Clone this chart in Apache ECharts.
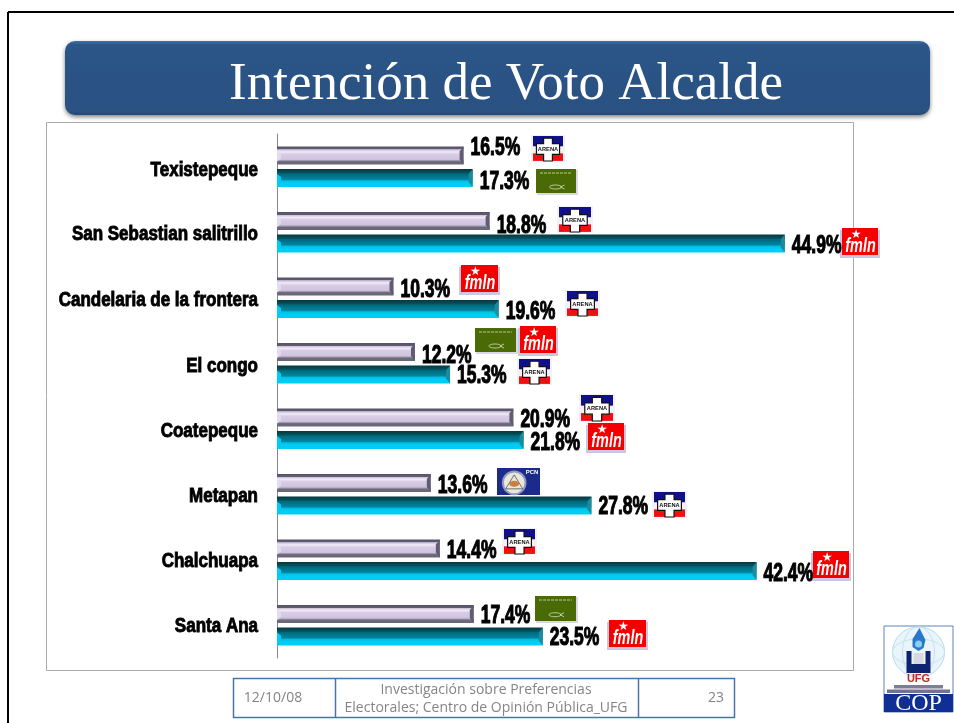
<!DOCTYPE html>
<html><head><meta charset="utf-8">
<style>html,body{margin:0;padding:0;background:#fff}#c{width:954px;height:723px}</style>
<script src="https://cdn.jsdelivr.net/npm/echarts@6/dist/echarts.min.js"></script>
</head><body><div id="c"></div>
<script>
const categories = ['Texistepeque','San Sebastian salitrillo','Candelaria de la frontera','El congo','Coatepeque','Metapan','Chalchuapa','Santa Ana'];
const firstValues = [16.5,18.8,10.3,12.2,20.9,13.6,14.4,17.4];
const secondValues = [17.3,44.9,19.6,15.3,21.8,27.8,42.4,23.5];
const titleText = 'Intención de Voto Alcalde';
const footerDate = '12/10/08';
const footerLines = ['Investigación sobre Preferencias','Electorales; Centro de Opinión Pública_UFG'];
const footerPage = '23';

// label nudges, per bar / category (vertical px)
const firstNudge = [-7,5,4,4,3,3,3,2];
const secondNudge = [4,3,3,2,3,2,3,2];
const categoryNudge = [4,2,3,3,3,2,2,1];

// party badges [party, x, y, w, h]
const badges = [
 ['ARENA',531,135,34,27],['PDC',536,169,41,25],['ARENA',557,206,36,27],['FMLN',842,228,37,28],
 ['FMLN',461,265,38,28],['ARENA',565,290,35,27],['PDC',475,328,42,25],['FMLN',520,326,37,28],
 ['ARENA',517,358,35,27],['ARENA',579,394,36,28],['FMLN',588,423,37,28],['PCN',497,468,43,27],
 ['ARENA',652,491,35,27],['ARENA',502,528,35,27],['FMLN',813,551,37,28],['PDC',535,596,42,26],
 ['FMLN',609,620,38,28]
];

const SANS = '"Liberation Sans",sans-serif';

function grad(stops){
  return {type:'linear',x:0,y:0,x2:0,y2:1,colorStops:stops.map(s=>({offset:s[0],color:s[1]}))};
}
const purpleFill = grad([[0,'#55536a'],[0.14,'#5f5c72'],[0.17,'#c9bdd6'],[0.3,'#f2ecf7'],[0.42,'#d8cde6'],[0.72,'#cfc3dd'],[0.8,'#8f8b9d'],[0.84,'#6b6879'],[1,'#6b6879']]);
const tealFill = grad([[0,'#04383f'],[0.2,'#05505c'],[0.28,'#006a7d'],[0.58,'#0085a0'],[0.66,'#00bfe6'],[0.8,'#00cdf6'],[1,'#00cdf6']]);

const BAR_H = 18, BAR_GAP = 4.5;

function bevel(side,edge,inner){
  return function(params,api){
    const p = api.coord([api.value(0),api.value(1)]);
    const y = p[1] + (side<0 ? -BAR_GAP/2-BAR_H : BAR_GAP/2);
    const x = p[0], y2=y+BAR_H;
    const x0 = api.coord([0,api.value(1)])[0];
    return {type:'group',children:[
      {type:'polygon',shape:{points:[[x,y],[x,y2],[x-4,y2-5],[x-4,y+5]]},style:{fill:edge}},
      {type:'polygon',shape:{points:[[x0,y+5],[x0+4,y+8],[x0+4,y2-6],[x0,y2-3]]},style:{fill:inner}}
    ]};
  };
}
function valueLabels(side){
  return function(params,api){
    const v=api.value(0);
    const p=api.coord([v,api.value(1)]);
    const y=p[1]+side*(BAR_GAP/2+BAR_H/2)+api.value(2);
    return {type:'text',x:p[0]+7,y:y,scaleX:0.7,style:{text:v.toFixed(1)+'%',fill:'#000',stroke:'#000',lineWidth:1.1,
      font:'bold 25px '+SANS,align:'left',verticalAlign:'middle'}};
  };
}
function categoryLabels(params,api){
  const i=api.value(1);
  const p=api.coord([0,i]);
  return {type:'text',x:p[0]-19,y:p[1]+api.value(2),scaleX:0.85,style:{text:categories[i],fill:'#000',stroke:'#000',lineWidth:0.9,
    font:'bold 20px '+SANS,align:'right',verticalAlign:'middle'}};
}

// ---- decorative badges
function arena(x,y,w,h){
  const cx=w*0.5, cy=h*0.52, a=w*0.13, b=h*0.2, l=w*0.16, r=w*0.84;
  const cross=[[cx-a,h*0.12],[cx+a,h*0.12],[cx+a,cy-b],[r,cy-b],[r,cy+b],[cx+a,cy+b],[cx+a,h-1],[cx-a,h-1],[cx-a,cy+b],[l,cy+b],[l,cy-b],[cx-a,cy-b]];
  return {type:'group',x,y,children:[
    {type:'rect',shape:{x:0,y:0,width:w,height:h},style:{fill:'#f1f1f7'}},
    {type:'rect',shape:{x:2,y:1,width:w-4,height:h*0.38},style:{fill:'#10108c'}},
    {type:'rect',shape:{x:2,y:h*0.68,width:w-4,height:h*0.28},style:{fill:'#f01010'}},
    {type:'polygon',shape:{points:cross},style:{fill:'#fff',stroke:'#111',lineWidth:1.2}},
    {type:'text',x:cx,y:cy,scaleX:0.95,style:{text:'ARENA',fill:'#111',font:'bold 6px '+SANS,align:'center',verticalAlign:'middle'}}
  ]};
}
function pdc(x,y,w,h){
  const cx=w/2, fy=h*0.72;
  return {type:'group',x,y,children:[
    {type:'rect',shape:{x:1,y:1,width:w,height:h},style:{fill:'#d8d8ea'}},
    {type:'rect',shape:{x:0,y:0,width:w-1,height:h-1},style:{fill:'#4a6a06'}},
    {type:'line',shape:{x1:4,y1:4,x2:w-5,y2:4},style:{stroke:'#b9c79a',lineWidth:1,lineDash:[3,1]}},
    {type:'ellipse',shape:{cx:cx-1,cy:fy,rx:6,ry:2},style:{fill:'none',stroke:'#d8e0c4',lineWidth:0.8}},
    {type:'polyline',shape:{points:[[cx+4,fy],[cx+8,fy-2]]},style:{stroke:'#d8e0c4',lineWidth:0.8,fill:'none'}},
    {type:'polyline',shape:{points:[[cx+4,fy],[cx+8,fy+2]]},style:{stroke:'#d8e0c4',lineWidth:0.8,fill:'none'}}
  ]};
}
function fmln(x,y,w,h){
  return {type:'group',x,y,children:[
    {type:'rect',shape:{x:-2,y:2,width:w+3,height:h},style:{fill:'#c9c8e2'}},
    {type:'rect',shape:{x:0,y:0,width:w-1,height:h-1},style:{fill:'#f40000'}},
    {type:'text',x:w*0.38,y:h*0.24,style:{text:'★',fill:'#fff',font:'12px "DejaVu Sans"',align:'center',verticalAlign:'middle'}},
    {type:'text',x:w*0.5,y:h*0.66,scaleX:0.72,style:{text:'fmln',fill:'#fff',font:'italic bold 20px '+SANS,align:'center',verticalAlign:'middle'}}
  ]};
}
function pcn(x,y,w,h){
  const cx=w*0.4, cy=h*0.55;
  return {type:'group',x,y,children:[
    {type:'rect',shape:{x:0,y:0,width:w,height:h},style:{fill:'#1c2a8c'}},
    {type:'circle',shape:{cx,cy,r:h*0.42},style:{fill:'#e9e6da',stroke:'#8f9ac4',lineWidth:2}},
    {type:'polygon',shape:{points:[[cx,cy-8],[cx+8.5,cy+6],[cx-8.5,cy+6]]},style:{fill:'none',stroke:'#555',lineWidth:0.8}},
    {type:'ellipse',shape:{cx,cy:cy+1,rx:5,ry:3},style:{fill:'#c8803c'}},
    {type:'text',x:w-8,y:4,style:{text:'PCN',fill:'#fff',font:'bold 6px '+SANS,align:'center',verticalAlign:'middle'}}
  ]};
}
const badgeMakers={ARENA:arena,PDC:pdc,FMLN:fmln,PCN:pcn};

function ufgLogo(){
  const x=884,y=626,w=69,h=86;
  const cx=w/2;
  return {type:'group',x,y,children:[
    {type:'rect',shape:{x:0,y:0,width:w,height:h},style:{fill:'#fff',stroke:'#5b86bb',lineWidth:1}},
    {type:'ellipse',shape:{cx,cy:26,rx:26,ry:25},style:{fill:'#eaf5fb',stroke:'#b5dcec',lineWidth:1}},
    {type:'ellipse',shape:{cx,cy:26,rx:16,ry:25},style:{fill:'none',stroke:'#c3e2f0',lineWidth:1}},
    {type:'ellipse',shape:{cx,cy:26,rx:26,ry:13},style:{fill:'none',stroke:'#c3e2f0',lineWidth:1}},
    {type:'polygon',shape:{points:[[cx+1,2],[cx+7,14],[cx+5,22],[cx,25],[cx-6,21],[cx-6,13]]},style:{fill:'#2a78cc'}},
    {type:'circle',shape:{cx,cy:18,r:3.5},style:{fill:'#8ad0ee'}},
    {type:'polygon',shape:{points:[[cx-12,25],[cx-7,25],[cx-7,38],[cx+7,38],[cx+7,25],[cx+12,25],[cx+12,47],[cx-12,47]]},style:{fill:'#0f2470'}},
    {type:'rect',shape:{x:cx-5,y:27,width:10,height:11},style:{fill:'#d8d8e4'}},
    {type:'text',x:cx,y:53,style:{text:'UFG',fill:'#c8281c',font:'bold 11px '+SANS,align:'center',verticalAlign:'middle'}},
    {type:'rect',shape:{x:10,y:59,width:w-20,height:3.5},style:{fill:'#7b7f96'}},
    {type:'rect',shape:{x:3,y:63.5,width:w-6,height:3.5},style:{fill:'#6f7590'}},
    {type:'rect',shape:{x:0,y:68,width:w,height:h-68},style:{fill:'#0f2f96'}},
    {type:'text',x:cx,y:78,style:{text:'COP',fill:'#fff',font:'24px "Liberation Serif"',align:'center',verticalAlign:'middle'}}
  ]};
}

const footerColor='#858585', footerBorder='#4a74a8';
const footerFont='14px "Open Sans"';
const graphicElements=[
  {type:'line',z:0,shape:{x1:8,y1:12,x2:954,y2:12},style:{stroke:'#000',lineWidth:2}},
  {type:'line',z:0,shape:{x1:8,y1:12,x2:8,y2:723},style:{stroke:'#000',lineWidth:2}},
  {type:'rect',z:0,shape:{x:46.5,y:122.5,width:807,height:548},style:{fill:'#fff',stroke:'#aaaaaa',lineWidth:1}},
  {type:'rect',z:1,shape:{x:65,y:41,width:865,height:74,r:10},style:{fill:grad([[0,'#4470a6'],[0.05,'#2c5688'],[0.95,'#295182'],[1,'#24487a']]),shadowColor:'rgba(0,0,0,0.5)',shadowBlur:4,shadowOffsetY:2}},
  {type:'text',z:2,x:506,y:85,style:{text:titleText,fill:'#fff',font:'53px "Liberation Serif"',align:'center',verticalAlign:'middle'}},
  {type:'rect',z:1,shape:{x:233.5,y:678.5,width:501,height:39},style:{fill:'#fff',stroke:footerBorder,lineWidth:1.5}},
  {type:'line',z:1,shape:{x1:335.5,y1:678,x2:335.5,y2:717},style:{stroke:footerBorder,lineWidth:1.5}},
  {type:'line',z:1,shape:{x1:638.5,y1:678,x2:638.5,y2:717},style:{stroke:footerBorder,lineWidth:1.5}},
  {type:'text',z:2,x:273,y:698,style:{text:footerDate,fill:footerColor,font:footerFont,align:'center',verticalAlign:'middle'}},
  {type:'text',z:2,x:486,y:690,style:{text:footerLines[0],fill:footerColor,font:footerFont,align:'center',verticalAlign:'middle'}},
  {type:'text',z:2,x:486,y:708,style:{text:footerLines[1],fill:footerColor,font:footerFont,align:'center',verticalAlign:'middle'}},
  {type:'text',z:2,x:724,y:698,style:{text:footerPage,fill:footerColor,font:footerFont,align:'right',verticalAlign:'middle'}},
  ufgLogo()
].concat(badges.map(b=>Object.assign(badgeMakers[b[0]](b[1],b[2],b[3],b[4]),{z:20})));

const chart=echarts.init(document.getElementById('c'),null,{renderer:'canvas'});
chart.setOption({
  animation:false,
  backgroundColor:'#fff',
  graphic:{elements:graphicElements},
  grid:{left:277,top:134,width:565.5,height:524,containLabel:false,z:5},
  xAxis:{type:'value',min:0,max:50,show:false},
  yAxis:{type:'category',inverse:true,data:categories,
    axisLine:{show:true,lineStyle:{color:'#888',width:1}},axisTick:{show:false},splitLine:{show:false},axisLabel:{show:false}},
  series:[
    {type:'bar',name:'Primero',barWidth:BAR_H,barGap:'25%',data:firstValues,itemStyle:{color:purpleFill},z:5},
    {type:'bar',name:'Segundo',barWidth:BAR_H,barGap:'25%',data:secondValues,itemStyle:{color:tealFill},z:5},
    {type:'custom',silent:true,z:6,encode:{x:0,y:1},data:firstValues.map((v,i)=>[v,i]),renderItem:bevel(-1,'#605d73','#e4dbee')},
    {type:'custom',silent:true,z:6,encode:{x:0,y:1},data:secondValues.map((v,i)=>[v,i]),renderItem:bevel(1,'#1b8b9e','#00cdf6')},
    {type:'custom',silent:true,z:7,encode:{x:0,y:1},data:firstValues.map((v,i)=>[v,i,firstNudge[i]]),renderItem:valueLabels(-1)},
    {type:'custom',silent:true,z:7,encode:{x:0,y:1},data:secondValues.map((v,i)=>[v,i,secondNudge[i]]),renderItem:valueLabels(1)},
    {type:'custom',silent:true,z:7,encode:{x:0,y:1},data:categories.map((c,i)=>[0,i,categoryNudge[i]]),renderItem:categoryLabels}
  ]
});
</script></body></html>
